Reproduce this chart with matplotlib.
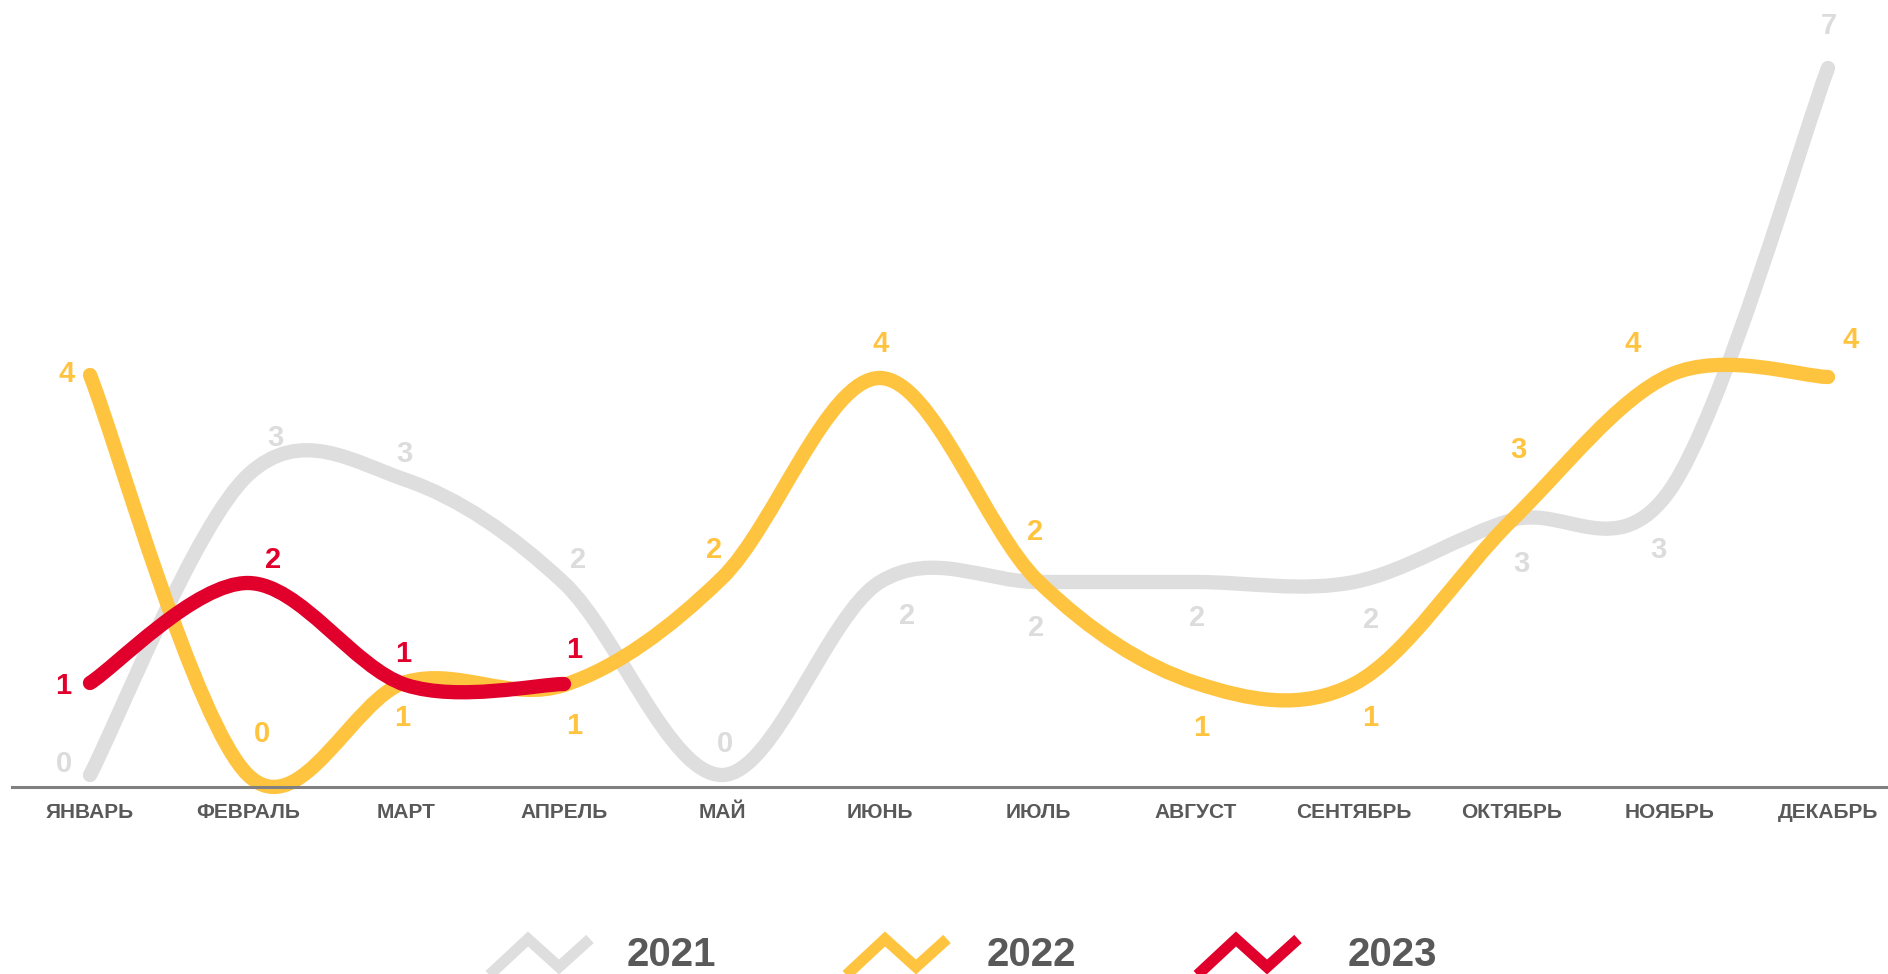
import matplotlib
matplotlib.use("Agg")
import matplotlib.pyplot as plt
from matplotlib.path import Path
from matplotlib.patches import PathPatch
from matplotlib.lines import Line2D
import numpy as np

# данные (подписи округлены)
months = ["ЯНВАРЬ", "ФЕВРАЛЬ", "МАРТ", "АПРЕЛЬ", "МАЙ", "ИЮНЬ",
          "ИЮЛЬ", "АВГУСТ", "СЕНТЯБРЬ", "ОКТЯБРЬ", "НОЯБРЬ", "ДЕКАБРЬ"]
values_2021 = [0.0, 3.0, 2.95, 1.92, 0.0, 1.93, 1.93, 1.93, 1.93, 2.55, 2.85, 7.07]
values_2022 = [4.0, 0.0, 0.93, 0.9, 1.97, 3.97, 1.94, 0.92, 0.91, 2.55, 4.0, 3.98]
values_2023 = [0.92, 1.92, 0.9, 0.91]
years = ["2021", "2022", "2023"]

# оформление
colors = ["#DEDEDE", "#FFC43F", "#E1002C"]
label_colors = ["#DCDCDC", "#FFC43F", "#E1002C"]
text_color = "#595959"

# смещения подписей в пикселях (dx, dy вверх)
offsets_2021 = [(-26, 13), (27, 40), (-2, 28), (14, 25), (3, 33), (27, -31),
                (-2, -44), (1, -33), (17, -36), (9, -42), (-12, -57), (1, 45)]
offsets_2022 = [(-23, 3), (14, 43), (-4, -34), (10, -39), (-8, 31), (1, 36),
                (-3, 51), (5, -43), (16, -32), (6, 73), (-37, 34), (23, 39)]
offsets_2023 = [(-27, 0), (25, 25), (-3, 33), (10, 36)]

W, H = 1888, 974
plt.rcParams["font.family"] = ["Liberation Sans", "DejaVu Sans"]


def smooth_path(ys):
    # сглаживание Катмулла-Рома через кубические кривые Безье
    pts = np.column_stack([np.arange(len(ys)), ys]).astype(float)
    padded = np.vstack([pts[0], pts, pts[-1]])
    verts = [pts[0]]
    codes = [Path.MOVETO]
    for i in range(len(pts) - 1):
        p_prev, p0, p1, p_next = padded[i], padded[i + 1], padded[i + 2], padded[i + 3]
        verts += [p0 + (p1 - p_prev) / 6, p1 - (p_next - p0) / 6, p1]
        codes += [Path.CURVE4] * 3
    return Path(verts, codes)


fig = plt.figure(figsize=(W / 100, H / 100), dpi=100)
ax = fig.add_axes([0, 0, 1, 1])
ax.set_xlim(-90 / 158, (W - 90) / 158)
ax.set_ylim(-1.99, 7.75)
ax.patch.set_visible(False)

series = [values_2021, values_2022, values_2023]
offsets = [offsets_2021, offsets_2022, offsets_2023]
for vals, col, lcol, offs in zip(series, colors, label_colors, offsets):
    ax.add_patch(PathPatch(smooth_path(vals), fill=False, edgecolor=col, lw=10.3,
                           capstyle="round", joinstyle="round"))
    for i, (v, (dx, dy)) in enumerate(zip(vals, offs)):
        ax.annotate(f"{v:.0f}", xy=(i, v), xytext=(dx, dy - 10.5),
                    textcoords="offset pixels", ha="center", va="baseline",
                    fontsize=21, fontweight="bold", color=lcol)

# ось
for side in ["top", "right", "left"]:
    ax.spines[side].set_visible(False)
ax.spines["bottom"].set_position(("data", -0.12))
ax.spines["bottom"].set_bounds(-78 / 158, (W - 90) / 158)
ax.spines["bottom"].set_color("#808080")
ax.spines["bottom"].set_linewidth(2.2)
ax.set_yticks([])
ax.set_xticks(range(len(months)), months)
ax.tick_params(axis="x", length=0, pad=11.5, labelsize=15, labelcolor=text_color)
for lbl in ax.get_xticklabels():
    lbl.set_fontweight("bold")

# легенда
legend_text_x = [671, 1031, 1392]
legend_icon_x = [528, 885, 1236]
for name, col, tx, ix in zip(years, colors, legend_text_x, legend_icon_x):
    zx = np.array([ix - 44, ix, ix + 31, ix + 62])
    zy = np.array([980, 939, 967, 939])
    fig.add_artist(Line2D(zx / W, 1 - zy / H, transform=fig.transFigure, color=col,
                          lw=8, solid_joinstyle="miter", solid_capstyle="butt"))
    fig.text(tx / W, 1 - 966 / H, name, ha="center", va="baseline", fontsize=29,
             fontweight="bold", color=text_color)

fig.savefig("out.png", dpi=100)
